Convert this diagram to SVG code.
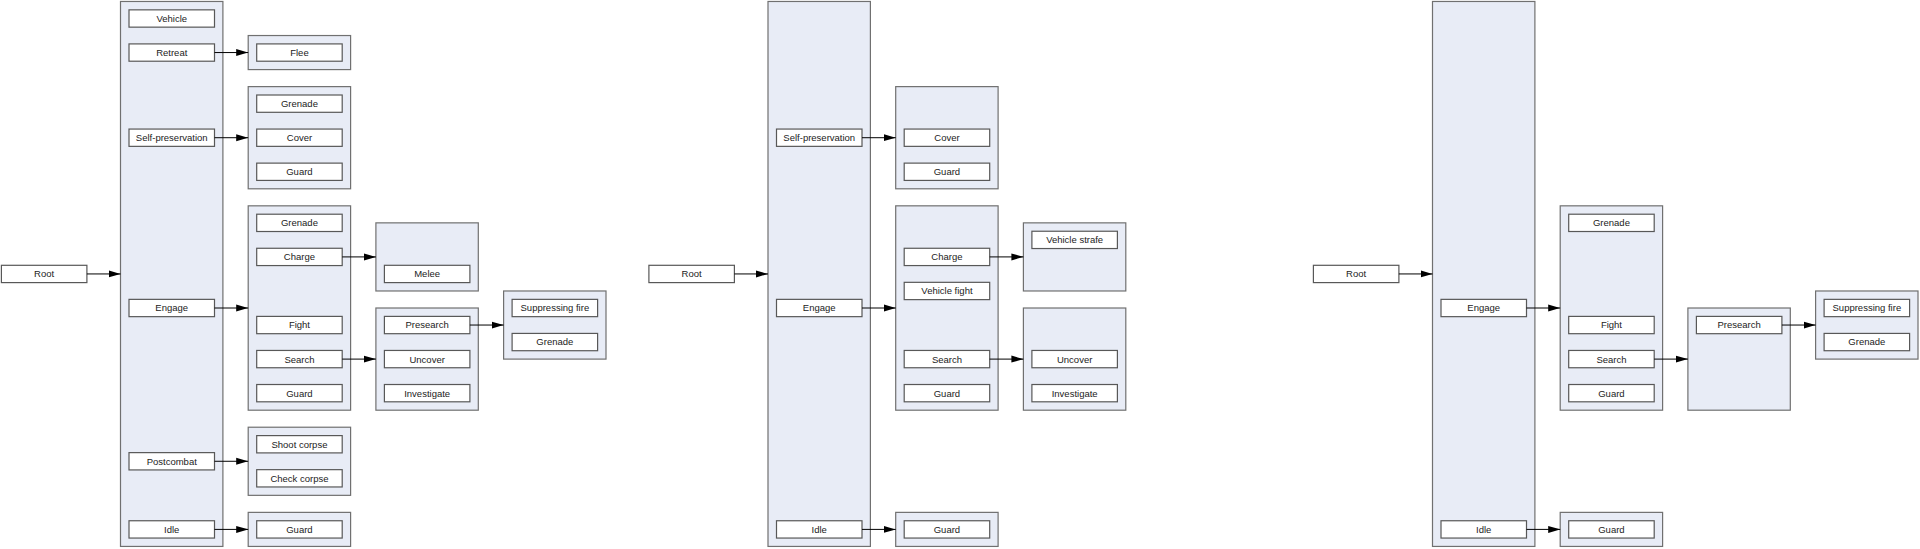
<svg xmlns="http://www.w3.org/2000/svg" width="1920" height="549" viewBox="0 0 1920 549">
<style>
.c{fill:#E8ECF6;stroke:#707070;stroke-width:1.2}
.b{fill:#FFFFFF;stroke:#585858;stroke-width:1.2}
.t{font-family:"Liberation Sans",Arial,sans-serif;font-size:9.5px;fill:#222;text-anchor:middle}
.e{stroke:#000;stroke-width:1;fill:none;marker-end:url(#arr)}
</style>
<defs>
<marker id="arr" markerWidth="12" markerHeight="8" refX="12" refY="4" orient="auto" markerUnits="userSpaceOnUse">
<path d="M0,0.5 L12,4 L0,7.5 z" fill="#000"/>
</marker>
</defs>
<rect width="1920" height="549" fill="#fff"/>

<!-- ============ Diagram 1 ============ -->
<g id="diagram1">
<g id="d1-root"><rect class="b" x="1.4" y="265.3" width="85.5" height="17.3"/><text class="t" x="44.15" y="277.35">Root</text></g>
<g id="d1-c1">
<rect class="c" x="120.5" y="1.47" width="102.4" height="544.96"/>
<g id="d1-vehicle"><rect class="b" x="129" y="9.85" width="85.5" height="17.3"/><text class="t" x="171.75" y="21.9">Vehicle</text></g>
<g id="d1-retreat"><rect class="b" x="129" y="43.91" width="85.5" height="17.3"/><text class="t" x="171.75" y="55.96">Retreat</text></g>
<g id="d1-selfpres"><rect class="b" x="129" y="129.06" width="85.5" height="17.3"/><text class="t" x="171.75" y="141.11">Self-preservation</text></g>
<g id="d1-engage"><rect class="b" x="129" y="299.36" width="85.5" height="17.3"/><text class="t" x="171.75" y="311.41">Engage</text></g>
<g id="d1-postcombat"><rect class="b" x="129" y="452.63" width="85.5" height="17.3"/><text class="t" x="171.75" y="464.68">Postcombat</text></g>
<g id="d1-idle"><rect class="b" x="129" y="520.75" width="85.5" height="17.3"/><text class="t" x="171.75" y="532.8">Idle</text></g>
</g>
<g id="d1-retreat-group">
<rect class="c" x="248.2" y="35.53" width="102.4" height="34.06"/>
<g id="d1-flee"><rect class="b" x="256.7" y="43.91" width="85.5" height="17.3"/><text class="t" x="299.45" y="55.96">Flee</text></g>
</g>
<g id="d1-selfpres-group">
<rect class="c" x="248.2" y="86.62" width="102.4" height="102.18"/>
<g id="d1-sp-grenade"><rect class="b" x="256.7" y="95" width="85.5" height="17.3"/><text class="t" x="299.45" y="107.05">Grenade</text></g>
<g id="d1-sp-cover"><rect class="b" x="256.7" y="129.06" width="85.5" height="17.3"/><text class="t" x="299.45" y="141.11">Cover</text></g>
<g id="d1-sp-guard"><rect class="b" x="256.7" y="163.12" width="85.5" height="17.3"/><text class="t" x="299.45" y="175.17">Guard</text></g>
</g>
<g id="d1-engage-group">
<rect class="c" x="248.2" y="205.83" width="102.4" height="204.36"/>
<g id="d1-en-grenade"><rect class="b" x="256.7" y="214.21" width="85.5" height="17.3"/><text class="t" x="299.45" y="226.26">Grenade</text></g>
<g id="d1-en-charge"><rect class="b" x="256.7" y="248.27" width="85.5" height="17.3"/><text class="t" x="299.45" y="260.32">Charge</text></g>
<g id="d1-en-fight"><rect class="b" x="256.7" y="316.39" width="85.5" height="17.3"/><text class="t" x="299.45" y="328.44">Fight</text></g>
<g id="d1-en-search"><rect class="b" x="256.7" y="350.45" width="85.5" height="17.3"/><text class="t" x="299.45" y="362.5">Search</text></g>
<g id="d1-en-guard"><rect class="b" x="256.7" y="384.51" width="85.5" height="17.3"/><text class="t" x="299.45" y="396.56">Guard</text></g>
</g>
<g id="d1-postcombat-group">
<rect class="c" x="248.2" y="427.22" width="102.4" height="68.12"/>
<g id="d1-shoot"><rect class="b" x="256.7" y="435.6" width="85.5" height="17.3"/><text class="t" x="299.45" y="447.65">Shoot corpse</text></g>
<g id="d1-check"><rect class="b" x="256.7" y="469.66" width="85.5" height="17.3"/><text class="t" x="299.45" y="481.71">Check corpse</text></g>
</g>
<g id="d1-idle-group">
<rect class="c" x="248.2" y="512.37" width="102.4" height="34.06"/>
<g id="d1-idle-guard"><rect class="b" x="256.7" y="520.75" width="85.5" height="17.3"/><text class="t" x="299.45" y="532.8">Guard</text></g>
</g>
<g id="d1-charge-group">
<rect class="c" x="375.9" y="222.86" width="102.4" height="68.12"/>
<g id="d1-melee"><rect class="b" x="384.4" y="265.3" width="85.5" height="17.3"/><text class="t" x="427.15" y="277.35">Melee</text></g>
</g>
<g id="d1-search-group">
<rect class="c" x="375.9" y="308.01" width="102.4" height="102.18"/>
<g id="d1-presearch"><rect class="b" x="384.4" y="316.39" width="85.5" height="17.3"/><text class="t" x="427.15" y="328.44">Presearch</text></g>
<g id="d1-uncover"><rect class="b" x="384.4" y="350.45" width="85.5" height="17.3"/><text class="t" x="427.15" y="362.5">Uncover</text></g>
<g id="d1-investigate"><rect class="b" x="384.4" y="384.51" width="85.5" height="17.3"/><text class="t" x="427.15" y="396.56">Investigate</text></g>
</g>
<g id="d1-presearch-group">
<rect class="c" x="503.6" y="290.98" width="102.4" height="68.12"/>
<g id="d1-suppress"><rect class="b" x="512.1" y="299.36" width="85.5" height="17.3"/><text class="t" x="554.85" y="311.41">Suppressing fire</text></g>
<g id="d1-ps-grenade"><rect class="b" x="512.1" y="333.42" width="85.5" height="17.3"/><text class="t" x="554.85" y="345.47">Grenade</text></g>
</g>
<g id="d1-connectors">
<line class="e" x1="86.9" y1="273.95" x2="120.5" y2="273.95"/>
<line class="e" x1="214.5" y1="52.56" x2="248.2" y2="52.56"/>
<line class="e" x1="214.5" y1="137.71" x2="248.2" y2="137.71"/>
<line class="e" x1="214.5" y1="308.01" x2="248.2" y2="308.01"/>
<line class="e" x1="214.5" y1="461.28" x2="248.2" y2="461.28"/>
<line class="e" x1="214.5" y1="529.4" x2="248.2" y2="529.4"/>
<line class="e" x1="342.2" y1="256.92" x2="375.9" y2="256.92"/>
<line class="e" x1="342.2" y1="359.1" x2="375.9" y2="359.1"/>
<line class="e" x1="469.9" y1="325.04" x2="503.6" y2="325.04"/>
</g>
</g>

<!-- ============ Diagram 2 ============ -->
<g id="diagram2" transform="translate(647.5,0)">
<g id="d2-root"><rect class="b" x="1.4" y="265.3" width="85.5" height="17.3"/><text class="t" x="44.15" y="277.35">Root</text></g>
<g id="d2-c1">
<rect class="c" x="120.5" y="1.47" width="102.4" height="544.96"/>
<g id="d2-selfpres"><rect class="b" x="129" y="129.06" width="85.5" height="17.3"/><text class="t" x="171.75" y="141.11">Self-preservation</text></g>
<g id="d2-engage"><rect class="b" x="129" y="299.36" width="85.5" height="17.3"/><text class="t" x="171.75" y="311.41">Engage</text></g>
<g id="d2-idle"><rect class="b" x="129" y="520.75" width="85.5" height="17.3"/><text class="t" x="171.75" y="532.8">Idle</text></g>
</g>
<g id="d2-selfpres-group">
<rect class="c" x="248.2" y="86.62" width="102.4" height="102.18"/>
<g id="d2-sp-cover"><rect class="b" x="256.7" y="129.06" width="85.5" height="17.3"/><text class="t" x="299.45" y="141.11">Cover</text></g>
<g id="d2-sp-guard"><rect class="b" x="256.7" y="163.12" width="85.5" height="17.3"/><text class="t" x="299.45" y="175.17">Guard</text></g>
</g>
<g id="d2-engage-group">
<rect class="c" x="248.2" y="205.83" width="102.4" height="204.36"/>
<g id="d2-en-charge"><rect class="b" x="256.7" y="248.27" width="85.5" height="17.3"/><text class="t" x="299.45" y="260.32">Charge</text></g>
<g id="d2-en-vfight"><rect class="b" x="256.7" y="282.33" width="85.5" height="17.3"/><text class="t" x="299.45" y="294.38">Vehicle fight</text></g>
<g id="d2-en-search"><rect class="b" x="256.7" y="350.45" width="85.5" height="17.3"/><text class="t" x="299.45" y="362.5">Search</text></g>
<g id="d2-en-guard"><rect class="b" x="256.7" y="384.51" width="85.5" height="17.3"/><text class="t" x="299.45" y="396.56">Guard</text></g>
</g>
<g id="d2-idle-group">
<rect class="c" x="248.2" y="512.37" width="102.4" height="34.06"/>
<g id="d2-idle-guard"><rect class="b" x="256.7" y="520.75" width="85.5" height="17.3"/><text class="t" x="299.45" y="532.8">Guard</text></g>
</g>
<g id="d2-charge-group">
<rect class="c" x="375.9" y="222.86" width="102.4" height="68.12"/>
<g id="d2-vstrafe"><rect class="b" x="384.4" y="231.24" width="85.5" height="17.3"/><text class="t" x="427.15" y="243.29">Vehicle strafe</text></g>
</g>
<g id="d2-search-group">
<rect class="c" x="375.9" y="308.01" width="102.4" height="102.18"/>
<g id="d2-uncover"><rect class="b" x="384.4" y="350.45" width="85.5" height="17.3"/><text class="t" x="427.15" y="362.5">Uncover</text></g>
<g id="d2-investigate"><rect class="b" x="384.4" y="384.51" width="85.5" height="17.3"/><text class="t" x="427.15" y="396.56">Investigate</text></g>
</g>
<g id="d2-connectors">
<line class="e" x1="86.9" y1="273.95" x2="120.5" y2="273.95"/>
<line class="e" x1="214.5" y1="137.71" x2="248.2" y2="137.71"/>
<line class="e" x1="214.5" y1="308.01" x2="248.2" y2="308.01"/>
<line class="e" x1="214.5" y1="529.4" x2="248.2" y2="529.4"/>
<line class="e" x1="342.2" y1="256.92" x2="375.9" y2="256.92"/>
<line class="e" x1="342.2" y1="359.1" x2="375.9" y2="359.1"/>
</g>
</g>

<!-- ============ Diagram 3 ============ -->
<g id="diagram3" transform="translate(1312,0)">
<g id="d3-root"><rect class="b" x="1.4" y="265.3" width="85.5" height="17.3"/><text class="t" x="44.15" y="277.35">Root</text></g>
<g id="d3-c1">
<rect class="c" x="120.5" y="1.47" width="102.4" height="544.96"/>
<g id="d3-engage"><rect class="b" x="129" y="299.36" width="85.5" height="17.3"/><text class="t" x="171.75" y="311.41">Engage</text></g>
<g id="d3-idle"><rect class="b" x="129" y="520.75" width="85.5" height="17.3"/><text class="t" x="171.75" y="532.8">Idle</text></g>
</g>
<g id="d3-engage-group">
<rect class="c" x="248.2" y="205.83" width="102.4" height="204.36"/>
<g id="d3-en-grenade"><rect class="b" x="256.7" y="214.21" width="85.5" height="17.3"/><text class="t" x="299.45" y="226.26">Grenade</text></g>
<g id="d3-en-fight"><rect class="b" x="256.7" y="316.39" width="85.5" height="17.3"/><text class="t" x="299.45" y="328.44">Fight</text></g>
<g id="d3-en-search"><rect class="b" x="256.7" y="350.45" width="85.5" height="17.3"/><text class="t" x="299.45" y="362.5">Search</text></g>
<g id="d3-en-guard"><rect class="b" x="256.7" y="384.51" width="85.5" height="17.3"/><text class="t" x="299.45" y="396.56">Guard</text></g>
</g>
<g id="d3-idle-group">
<rect class="c" x="248.2" y="512.37" width="102.4" height="34.06"/>
<g id="d3-idle-guard"><rect class="b" x="256.7" y="520.75" width="85.5" height="17.3"/><text class="t" x="299.45" y="532.8">Guard</text></g>
</g>
<g id="d3-search-group">
<rect class="c" x="375.9" y="308.01" width="102.4" height="102.18"/>
<g id="d3-presearch"><rect class="b" x="384.4" y="316.39" width="85.5" height="17.3"/><text class="t" x="427.15" y="328.44">Presearch</text></g>
</g>
<g id="d3-presearch-group">
<rect class="c" x="503.6" y="290.98" width="102.4" height="68.12"/>
<g id="d3-suppress"><rect class="b" x="512.1" y="299.36" width="85.5" height="17.3"/><text class="t" x="554.85" y="311.41">Suppressing fire</text></g>
<g id="d3-ps-grenade"><rect class="b" x="512.1" y="333.42" width="85.5" height="17.3"/><text class="t" x="554.85" y="345.47">Grenade</text></g>
</g>
<g id="d3-connectors">
<line class="e" x1="86.9" y1="273.95" x2="120.5" y2="273.95"/>
<line class="e" x1="214.5" y1="308.01" x2="248.2" y2="308.01"/>
<line class="e" x1="214.5" y1="529.4" x2="248.2" y2="529.4"/>
<line class="e" x1="342.2" y1="359.1" x2="375.9" y2="359.1"/>
<line class="e" x1="469.9" y1="325.04" x2="503.6" y2="325.04"/>
</g>
</g>
</svg>
